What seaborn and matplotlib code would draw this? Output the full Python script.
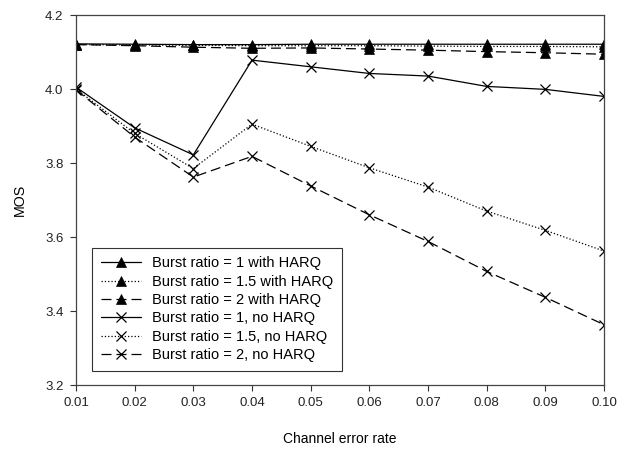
import matplotlib
matplotlib.use("Agg")
import matplotlib.pyplot as plt
import seaborn as sns
import pandas as pd

error_rate = [0.01, 0.02, 0.03, 0.04, 0.05, 0.06, 0.07, 0.08, 0.09, 0.10]
harq_br1 = [4.122, 4.121, 4.120, 4.120, 4.121, 4.121, 4.121, 4.121, 4.121, 4.121]
harq_br15 = [4.120, 4.119, 4.118, 4.117, 4.117, 4.117, 4.116, 4.115, 4.115, 4.114]
harq_br2 = [4.120, 4.117, 4.113, 4.110, 4.111, 4.108, 4.105, 4.101, 4.098, 4.094]
noharq_br1 = [4.005, 3.895, 3.822, 4.078, 4.060, 4.042, 4.035, 4.007, 3.999, 3.980]
noharq_br15 = [4.000, 3.880, 3.785, 3.905, 3.845, 3.787, 3.735, 3.670, 3.618, 3.562]
noharq_br2 = [3.998, 3.870, 3.762, 3.818, 3.738, 3.660, 3.588, 3.507, 3.437, 3.363]

labels = ["Burst ratio = 1 with HARQ", "Burst ratio = 1.5 with HARQ",
          "Burst ratio = 2 with HARQ", "Burst ratio = 1, no HARQ",
          "Burst ratio = 1.5, no HARQ", "Burst ratio = 2, no HARQ"]
series = [harq_br1, harq_br15, harq_br2, noharq_br1, noharq_br15, noharq_br2]
styles = ["-", ":", (0, (8, 4)), "-", ":", (0, (8, 4))]
markers = ["^", "^", "^", "x", "x", "x"]

sns.set_style("ticks")
plt.rcParams['font.family'] = ['Liberation Sans', 'DejaVu Sans']
plt.rcParams['text.color'] = 'black'
plt.rcParams['axes.labelcolor'] = 'black'
fig = plt.figure(figsize=(6.2, 4.5), dpi=100)
ax = fig.add_axes([76/620, 1 - 385/450, (604-76)/620, (385-15)/450])

for lab, vals, ls, mk in zip(labels, series, styles, markers):
    df = pd.DataFrame({"x": error_rate, "y": vals})
    sns.lineplot(data=df, x="x", y="y", ax=ax, color="black", linewidth=0.9,
                 linestyle=ls, marker=mk, markersize=7,
                 markeredgewidth=0.9 if mk == "x" else 0.5,
                 markerfacecolor="black", markeredgecolor="black", label=lab)

ax.set_xlim(0.01, 0.10)
ax.set_ylim(3.2, 4.2)
ax.set_xticks(error_rate)
ax.set_xticklabels([f"{v:.2f}" for v in error_rate], fontsize=9.5)
ax.set_yticks([3.2, 3.4, 3.6, 3.8, 4.0, 4.2])
ax.set_yticklabels(["3.2", "3.4", "3.6", "3.8", "4.0", "4.2"], fontsize=9.5)
ax.tick_params(direction="out", length=4, width=0.8, pad=5, colors="#333333", labelcolor="#222222")
for s in ax.spines.values():
    s.set_visible(True)
    s.set_linewidth(0.9)
    s.set_color("#444444")
ax.set_xlabel("Channel error rate", fontsize=10, labelpad=16)
ax.set_ylabel("MOS", fontsize=10.3, labelpad=13)

leg = ax.legend(loc="lower left", bbox_to_anchor=(0.03, 0.038), fontsize=10.5,
                frameon=True, fancybox=False, edgecolor="black", handlelength=2.8,
                borderpad=0.6, labelspacing=0.3, handletextpad=0.75,
                borderaxespad=0)
leg.get_frame().set_linewidth(0.8)

fig.savefig("out.png", dpi=100)
